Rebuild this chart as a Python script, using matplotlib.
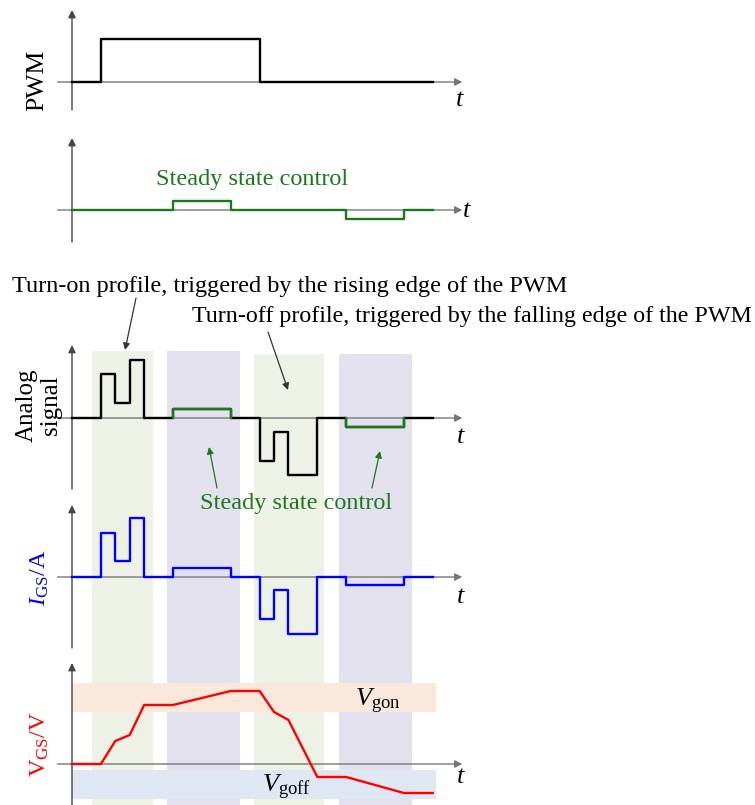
import numpy as np
import matplotlib.pyplot as plt

plt.rcParams['font.family'] = ['Liberation Serif', 'DejaVu Serif']
plt.rcParams['mathtext.fontset'] = 'custom'
plt.rcParams['mathtext.rm'] = 'Liberation Serif'
plt.rcParams['mathtext.it'] = 'Liberation Serif:italic'

W, H = 755, 805

# switching instants (time units) and levels
pwm_t = [0, 2, 13, 25]
pwm_v = [0, 4.3, 0, 0]

steady_t = [0, 7, 11, 19, 23, 25]
steady_v = [0, 0.9, 0, -0.9, 0, 0]

analog_t = [0, 2, 3, 4, 5, 7, 11, 13, 14, 15, 17, 19, 23, 25]
analog_v = [0, 4.4, 1.5, 5.8, 0, 0.9, 0, -4.3, -1.4, -5.7, 0, -0.9, 0, 0]

igs_t = analog_t
igs_v = [0, 4.4, 1.6, 5.9, 0, 0.9, 0, -4.2, -1.3, -5.7, 0, -0.8, 0, 0]

vgs_t = [0, 2, 3, 4, 5, 7, 11, 13, 14, 15, 17, 19, 23, 25]
vgs_v = [0, 0, 2.3, 2.9, 5.9, 5.9, 7.3, 7.3, 5.2, 4.4, -1.3, -1.3, -2.9, -2.9]

vgon_band = (5.2, 8.1)
vgoff_band = (-3.5, -0.6)
hband_t = (0, 25.2)

# shaded profile windows: start, end, top (px)
band_start = [1.4, 6.6, 12.6, 18.5]
band_end = [5.6, 11.65, 17.45, 23.55]
band_top = [351, 351, 354, 354]
band_col = ['#eef1e6', '#e4e1ee', '#eef1e6', '#e4e1ee']

GREEN = '#1a7a1a'
T0, SX = 72, 14.43  # pixel of t=0 and px per time unit
XMIN, XMAX = -1, 27.5

fig = plt.figure(figsize=(W / 100, H / 100), dpi=100)


def make_ax(top, bot, ylim, z=2):
    L = T0 + XMIN * SX
    R = T0 + XMAX * SX
    ax = fig.add_axes([L / W, 1 - bot / H, (R - L) / W, (bot - top) / H])
    ax.set_xlim(XMIN, XMAX)
    ax.set_ylim(*ylim)
    ax.axis('off')
    ax.patch.set_alpha(0)
    ax.set_zorder(z)
    return ax


def draw_axes(ax, ylim):
    ax.annotate('', xy=(27.05, 0), xytext=(XMIN, 0),
                arrowprops=dict(arrowstyle='-|>', color='#777777', lw=1.0,
                                mutation_scale=11, shrinkA=0, shrinkB=0),
                zorder=3)
    ax.annotate('', xy=(0, ylim[1]), xytext=(0, ylim[0]),
                arrowprops=dict(arrowstyle='-|>', color='#444444', lw=1.0,
                                mutation_scale=11, shrinkA=0, shrinkB=0),
                zorder=3)


# background windows
bg = make_ax(340, H, (H, 340), z=0)
for s, e, tp, c in zip(band_start, band_end, band_top, band_col):
    bg.fill_between([s, e], tp, H, color=c, lw=0)

# panel 1: PWM
lim1 = (-2.8, 7.2)
ax1 = make_ax(10, 110, lim1)
draw_axes(ax1, lim1)
ax1.plot(pwm_t, pwm_v, drawstyle='steps-post', color='black', lw=1.7, zorder=4)
ax1.text(26.9, -1.8, '$t$', fontsize=19, ha='center', va='center')

# panel 2: steady state control
lim2 = (-3.2, 7.2)
ax2 = make_ax(138, 242, lim2)
draw_axes(ax2, lim2)
ax2.plot(steady_t, steady_v, drawstyle='steps-post', color=GREEN, lw=1.7, zorder=4)
ax2.text(27.4, -0.1, '$t$', fontsize=19, ha='center', va='center')
ax2.text(12.45, 2.5, 'Steady state control', fontsize=17.5, color=GREEN,
         ha='center', va='baseline')

# panel 3: analog signal
lim3 = (-7.1, 7.3)
ax3 = make_ax(345, 489, lim3)
draw_axes(ax3, lim3)
ax3.plot(analog_t, analog_v, drawstyle='steps-post', color='black', lw=1.7, zorder=4)
for a, b in [(7, 11), (19, 23)]:
    i = steady_t.index(a)
    ax3.plot([a, a, b, b], [0, steady_v[i], steady_v[i], 0], color=GREEN,
             lw=1.7, zorder=5)
ax3.text(26.95, -1.9, '$t$', fontsize=19, ha='center', va='center')

# panel 4: IGS
lim4 = (-7.1, 7.2)
ax4 = make_ax(505, 648, lim4)
draw_axes(ax4, lim4)
ax4.plot(igs_t, igs_v, drawstyle='steps-post', color='#0000ff', lw=1.7, zorder=4)
ax4.text(26.95, -2.0, '$t$', fontsize=19, ha='center', va='center')

# panel 5: VGS
lim5 = (-4.1, 10.1)
ax5 = make_ax(663, H, lim5)
ax5.fill_between(hband_t, *vgon_band, color='#fae8dc', lw=0, zorder=1)
ax5.fill_between(hband_t, *vgoff_band, color='#dfe8f2', lw=0, zorder=1)
draw_axes(ax5, lim5)
ax5.plot(vgs_t, vgs_v, color='#ff0000', lw=1.7, zorder=4)
ax5.text(26.95, -1.3, '$t$', fontsize=19, ha='center', va='center')
ax5.text(19.6, 5.8, r'$V_{\mathrm{gon}}$', fontsize=19, ha='left', va='baseline')
ax5.text(13.2, -2.8, r'$V_{\mathrm{goff}}$', fontsize=19, ha='left', va='baseline')

# overlay for labels and annotations (pixel coordinates)
ov = fig.add_axes([0, 0, 1, 1])
ov.set_xlim(0, W)
ov.set_ylim(H, 0)
ov.axis('off')
ov.patch.set_alpha(0)
ov.set_zorder(10)

ov.text(37, 80, 'PWM', fontsize=18.5, rotation=90, ha='center', va='center')
ov.text(39, 405, 'Analog\nsignal', fontsize=18, rotation=90, ha='center',
        va='center', linespacing=1.15)
ov.text(40, 578, r'$I_{\mathrm{GS}}$/A', fontsize=17.5, rotation=90,
        ha='center', va='center', color='#0000ff')
ov.text(40, 744, r'V$_{\mathrm{GS}}$/V', fontsize=17.5, rotation=90,
        ha='center', va='center', color='#ff0000')

ov.text(12, 292, 'Turn-on profile, triggered by the rising edge of the PWM',
        fontsize=17.5, ha='left', va='baseline')
ov.text(752, 322, 'Turn-off profile, triggered by the falling edge of the PWM',
        fontsize=17.3, ha='right', va='baseline')
ov.text(296, 509, 'Steady state control', fontsize=17.5, color=GREEN,
        ha='center', va='baseline')

arr_k = dict(arrowstyle='-|>', color='#333333', lw=0.9, mutation_scale=10,
             shrinkA=0, shrinkB=0)
arr_g = dict(arrowstyle='-|>', color=GREEN, lw=0.9, mutation_scale=10,
             shrinkA=0, shrinkB=0)
ov.annotate('', xy=(125, 350), xytext=(136, 298), arrowprops=arr_k)
ov.annotate('', xy=(288, 390), xytext=(268, 332), arrowprops=arr_k)
ov.annotate('', xy=(209, 447), xytext=(217, 488), arrowprops=arr_g)
ov.annotate('', xy=(380, 451), xytext=(372, 488), arrowprops=arr_g)

fig.savefig('out.png', dpi=100)
